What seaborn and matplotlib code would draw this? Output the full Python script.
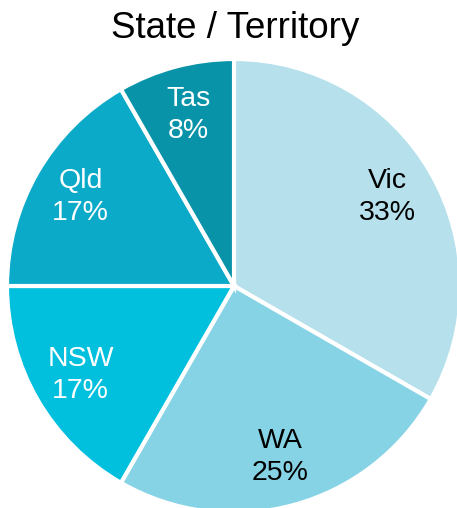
import matplotlib
matplotlib.use('Agg')
import matplotlib.pyplot as plt
import seaborn as sns

states = ['Vic', 'WA', 'NSW', 'Qld', 'Tas']
shares = [33.3, 25.0, 16.7, 16.7, 8.3]
pct_labels = ['33%', '25%', '17%', '17%', '8%']
colors = sns.color_palette(['#b5e0ec', '#87d3e6', '#00c0de', '#0aaac8', '#0893a9'])
text_colors = ['black', 'black', 'white', 'white', 'white']

sns.set_theme(style='white')
plt.rcParams['font.family'] = ['Liberation Sans', 'DejaVu Sans']

fig = plt.figure(figsize=(4.57, 5.08), dpi=100)
ax = fig.add_axes([7/457, -5/508, 454/457, 454/508])

labels = [f'{s}\n{p}' for s, p in zip(states, pct_labels)]
wedges, texts = ax.pie(shares, labels=labels, colors=colors, startangle=90,
                       counterclock=False, labeldistance=0.78,
                       wedgeprops=dict(edgecolor='white', linewidth=3),
                       textprops=dict(fontsize=20.5, ha='center', va='center',
                                      linespacing=1.3))
for t, c in zip(texts, text_colors):
    t.set_color(c)
    t.set_horizontalalignment('center')
ax.set_xlim(-1, 1)
ax.set_ylim(-1, 1)
ax.set_aspect('equal')
ax.axis('off')

fig.text(235/457, 1 - 38/508, 'State / Territory', ha='center', va='baseline',
         fontsize=26.5, color='black')

fig.savefig('out.png', dpi=100)
